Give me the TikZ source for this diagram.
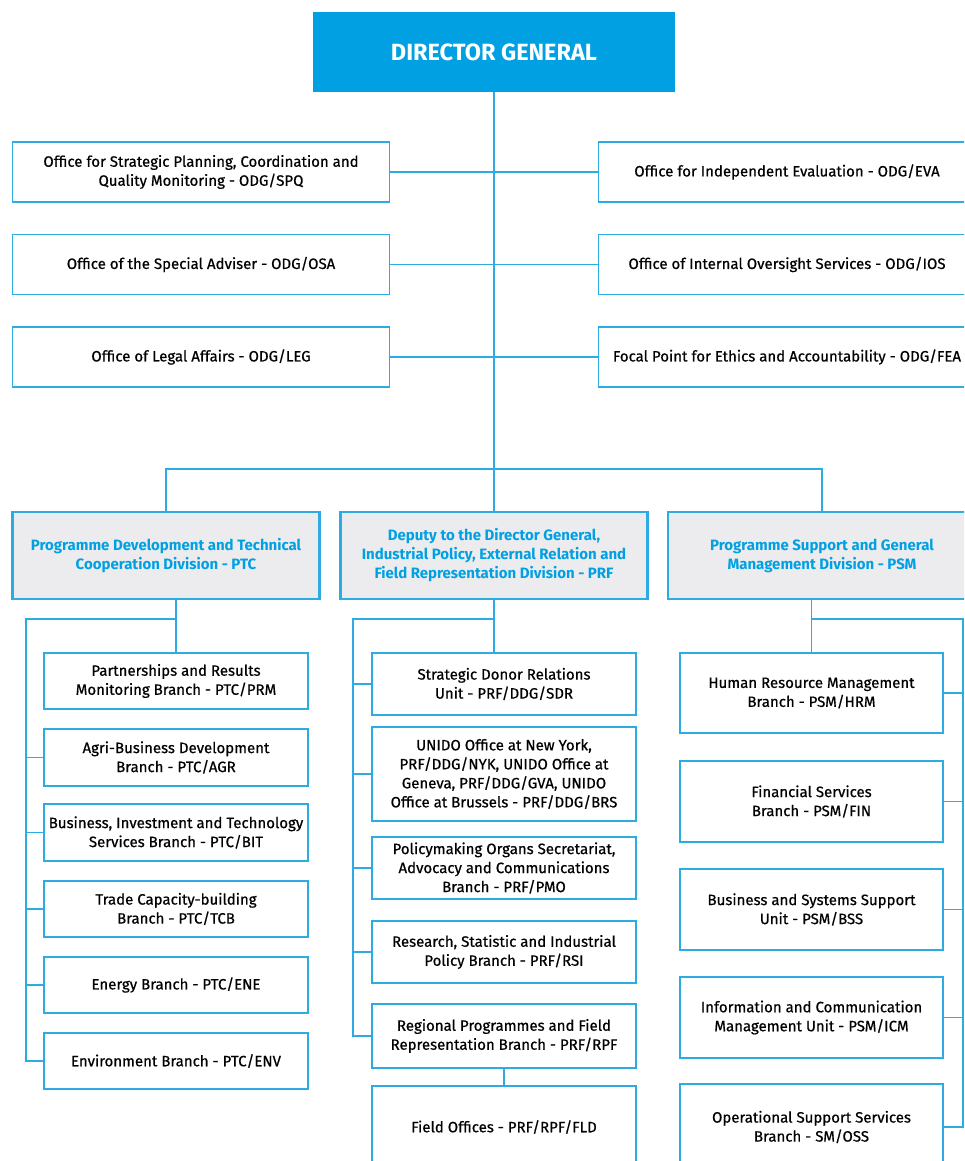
\documentclass[tikz,border=0pt]{standalone}
\usepackage{fontspec}
\setmainfont{Fira Sans}[UprightFeatures={FakeBold=0.6}]
\usetikzlibrary{backgrounds}
\definecolor{unidoblue}{RGB}{0,160,227}
\definecolor{linkblue}{RGB}{45,172,228}
\definecolor{divgray}{RGB}{236,236,238}

\begin{document}
\begin{tikzpicture}[x=1pt,y=-1pt,
  every node/.style={align=center,inner sep=0pt,font=\fontsize{15}{19}\selectfont},
  dgbox/.style={fill=unidoblue,text=white,minimum width=362pt,minimum height=80pt,
    font=\bfseries\fontsize{23.5}{28}\selectfont},
  office/.style={draw=linkblue,line width=1.6pt,fill=white,minimum width=377pt,minimum height=60pt},
  division/.style={draw=linkblue,line width=2.6pt,fill=divgray,text=unidoblue,
    minimum width=307pt,minimum height=87pt,font=\bfseries\fontsize{15}{19}\selectfont},
  branch/.style={draw=linkblue,line width=1.6pt,fill=white,minimum width=264pt},
  link/.style={draw=linkblue,line width=1.6pt}]

  \useasboundingbox (0,0) rectangle (964,1161);
  \clip (0,0) rectangle (964,1161);

  \node[dgbox] (dg) at (494,52) {DIRECTOR GENERAL};

  % offices of the director general
  \node[office] (spq) at (201,172) {Office for Strategic Planning, Coordination and\\Quality Monitoring - ODG/SPQ};
  \node[office] (osa) at (201,264.5) {Office of the Special Adviser - ODG/OSA};
  \node[office] (leg) at (201,357) {Office of Legal Affairs - ODG/LEG};
  \node[office] (eva) at (787,172) {Office for Independent Evaluation - ODG/EVA};
  \node[office] (ios) at (787,264.5) {Office of Internal Oversight Services - ODG/IOS};
  \node[office] (fea) at (787,357) {Focal Point for Ethics and Accountability - ODG/FEA};

  % divisions
  \node[division] (ptc) at (166,555.5) {Programme Development and Technical\\Cooperation Division - PTC};
  \node[division] (prf) at (494,555.5) {Deputy to the Director General,\\Industrial Policy, External Relation and\\Field Representation Division - PRF};
  \node[division,minimum width=308pt] (psm) at (822,555.5) {Programme Support and General\\Management Division - PSM};

  % branches PTC
  \node[branch,minimum height=56pt] (prm) at (176,681) {Partnerships and Results\\Monitoring Branch - PTC/PRM};
  \node[branch,minimum height=57pt] (agr) at (176,757.5) {Agri-Business Development\\Branch - PTC/AGR};
  \node[branch,minimum height=57pt] (bit) at (176,832.5) {Business, Investment and Technology\\Services Branch - PTC/BIT};
  \node[branch,minimum height=56pt] (tcb) at (176,909) {Trade Capacity-building\\Branch - PTC/TCB};
  \node[branch,minimum height=56pt] (ene) at (176,985) {Energy Branch - PTC/ENE};
  \node[branch,minimum height=56pt] (env) at (176,1061) {Environment Branch - PTC/ENV};

  % branches PRF
  \node[branch,minimum height=62pt] (sdr) at (504,684) {Strategic Donor Relations\\Unit - PRF/DDG/SDR};
  \node[branch,minimum height=94pt] (liaison) at (504,774) {UNIDO Office at New York,\\PRF/DDG/NYK, UNIDO Office at\\Geneva, PRF/DDG/GVA, UNIDO\\Office at Brussels - PRF/DDG/BRS};
  \node[branch,minimum height=62pt] (pmo) at (504,868) {Policymaking Organs Secretariat,\\Advocacy and Communications\\Branch - PRF/PMO};
  \node[branch,minimum height=62pt] (rsi) at (504,952) {Research, Statistic and Industrial\\Policy Branch - PRF/RSI};
  \node[branch,minimum height=64pt] (rpf) at (504,1036) {Regional Programmes and Field\\Representation Branch - PRF/RPF};
  \node[branch,minimum height=82pt] (fld) at (504,1127) {Field Offices - PRF/RPF/FLD};

  % branches PSM
  \node[branch,minimum width=263pt,minimum height=80pt] (hrm) at (811.5,693) {Human Resource Management\\Branch - PSM/HRM};
  \node[branch,minimum width=263pt,minimum height=81pt] (fin) at (811.5,801.5) {Financial Services\\Branch - PSM/FIN};
  \node[branch,minimum width=263pt,minimum height=81pt] (bss) at (811.5,909.5) {Business and Systems Support\\Unit - PSM/BSS};
  \node[branch,minimum width=263pt,minimum height=81pt] (icm) at (811.5,1017.5) {Information and Communication\\Management Unit - PSM/ICM};
  \node[branch,minimum width=263pt,minimum height=86pt] (oss) at (811.5,1127) {Operational Support Services\\Branch - SM/OSS};

  \coordinate (bus) at (494,469);
  \coordinate (ptcrail) at (26,619);
  \coordinate (prfrail) at (353,619);
  \coordinate (psmrail) at (963,619);

  \begin{scope}[on background layer]
    \fill[white] (0,0) rectangle (964,1161);
    \draw[link] (dg.south) -- (prf.north);
    \foreach \o in {spq,osa,leg}
      \draw[link] (\o.east) -- (\o.east -| dg.south);
    \foreach \o in {eva,ios,fea}
      \draw[link] (\o.west) -- (\o.west -| dg.south);
    \draw[link] (ptc.north) |- (bus) -| (psm.north);

    \draw[link] (prm.north |- ptc.south) -- (prm.north);
    \draw[link] (prm.north |- ptcrail) -- (ptcrail) |- (env.west);
    \foreach \b in {agr,bit,tcb,ene}
      \draw[link] (ptcrail |- \b.west) -- (\b.west);

    \draw[link] (prf.south) -- (prf.south |- sdr.north);
    \draw[link] (prf.south |- prfrail) -- (prfrail) |- (rpf.west);
    \foreach \b in {sdr,liaison,pmo,rsi}
      \draw[link] (prfrail |- \b.west) -- (\b.west);
    \draw[link] (rpf.south) -- (fld.north);

    \draw[link] (hrm.north |- psm.south) -- (hrm.north);
    \draw[link] (hrm.north |- psmrail) -- (psmrail) |- (oss.east);
    \foreach \b in {hrm,fin,bss,icm}
      \draw[link] (psmrail |- \b.east) -- (\b.east);
  \end{scope}

\end{tikzpicture}
\end{document}
